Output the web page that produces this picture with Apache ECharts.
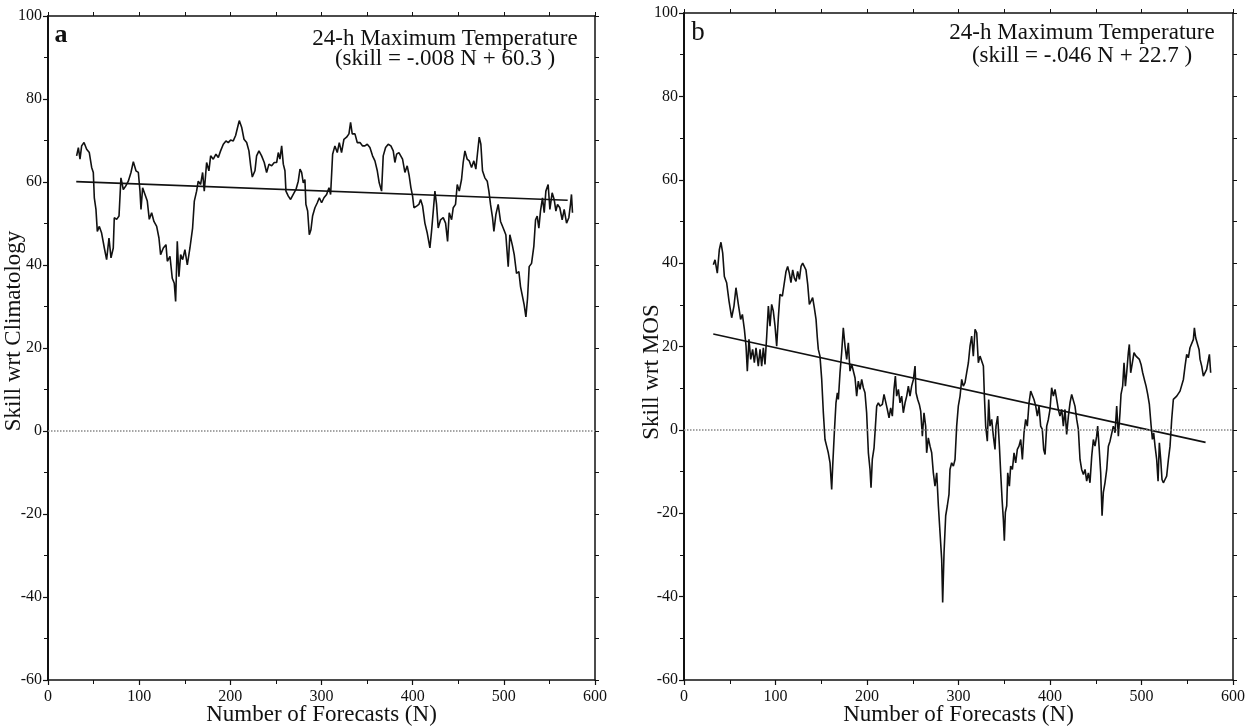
<!DOCTYPE html>
<html>
<head>
<meta charset="utf-8">
<script src="https://cdn.jsdelivr.net/npm/echarts@6/dist/echarts.min.js"></script>
<style>
  html, body { margin: 0; padding: 0; background: #fff; }
  #chart { width: 1253px; height: 727px; }
</style>
</head>
<body>
<div id="chart"></div>
<script>
// ---------------------------------------------------------------------------
// data: [N, skill]
// ---------------------------------------------------------------------------
var xTicks = [0, 100, 200, 300, 400, 500, 600];
var yTicks = [-60, -40, -20, 0, 20, 40, 60, 80, 100];

// panel a: skill wrt climatology
var climSkill = [
    [31.4,66.3],[33.3,68.3],[35.1,65.5],[36.9,68.7],[39.5,69.5],[42.4,67.9],[45.3,67.1],[47.9,63.5],
    [49.7,62.3],[50.8,56.2],[52.6,53.4],[54.1,48.1],[56.3,49.3],[58.8,47.7],[61.8,44.1],[64.3,41.3],
    [66.9,46.5],[69.1,41.7],[71.6,44.1],[72.7,51.4],[75.3,51.0],[77.9,51.8],[80.0,61.0],[82.6,58.2],
    [85.2,59.0],[88.1,60.2],[91.0,62.3],[93.6,64.9],[96.5,62.7],[99.1,62.3],[100.9,57.8],[102.0,53.4],
    [103.8,58.6],[106.4,57.0],[108.9,55.4],[111.1,51.0],[113.7,52.6],[116.2,50.5],[119.2,49.3],[121.7,46.5],
    [123.5,42.5],[126.5,44.1],[129.4,44.9],[130.9,40.9],[133.8,42.1],[136.3,36.8],[138.5,35.6],[140.0,31.2],
    [141.8,45.7],[143.6,37.2],[145.5,42.5],[147.7,41.3],[150.2,43.7],[152.8,40.0],[155.7,44.1],[158.6,48.9],
    [160.5,55.4],[163.0,57.8],[164.8,60.2],[167.4,59.4],[169.6,62.3],[171.4,57.8],[174.0,64.7],[176.5,62.7],
    [178.4,66.3],[181.3,65.5],[184.2,66.7],[186.8,65.9],[189.3,67.5],[192.3,69.1],[195.2,69.9],[197.7,69.5],
    [200.3,70.1],[203.2,69.9],[205.8,71.2],[208.0,73.2],[209.8,74.8],[212.4,73.2],[215.0,70.3],[217.9,69.5],
    [220.4,67.5],[222.3,63.9],[224.1,61.2],[227.0,62.7],[228.8,66.3],[231.4,67.5],[234.3,66.3],[237.2,64.7],
    [239.8,62.3],[242.4,64.3],[245.3,63.9],[248.2,64.7],[250.8,64.7],[252.6,67.1],[254.4,65.5],[256.3,68.7],
    [258.1,64.3],[259.9,62.7],[261.0,57.8],[263.6,56.6],[266.1,55.8],[269.0,57.0],[272.0,58.2],[274.5,60.2],
    [276.4,63.1],[278.2,62.3],[280.0,59.8],[281.8,60.6],[282.9,54.6],[284.8,53.0],[286.6,47.3],[288.4,48.5],
    [290.2,51.8],[292.8,53.8],[295.4,55.0],[297.6,56.2],[300.1,55.0],[302.7,56.2],[305.6,57.0],[308.2,58.6],
    [310.0,57.0],[312.2,66.7],[314.7,68.7],[317.3,67.1],[319.5,69.5],[322.0,67.1],[324.6,70.3],[327.5,70.8],
    [330.1,71.6],[331.9,74.4],[333.7,71.6],[336.7,71.6],[339.2,69.5],[342.2,69.5],[345.1,68.7],[347.6,68.7],
    [350.2,69.1],[353.1,68.3],[356.0,66.3],[358.6,65.1],[361.2,62.7],[363.3,59.8],[365.9,57.8],[367.7,66.3],
    [370.3,68.3],[373.2,69.1],[376.1,68.7],[378.7,67.5],[380.5,64.7],[382.4,66.7],[384.9,67.1],[388.9,65.5],
    [391.5,62.3],[394.0,63.9],[396.2,61.5],[398.1,58.6],[399.9,56.6],[401.4,53.8],[404.3,54.2],[406.8,54.6],
    [408.7,55.8],[410.9,54.2],[413.4,50.1],[416.0,47.7],[418.9,44.1],[420.7,48.1],[422.6,53.0],[424.4,57.8],
    [426.2,54.6],[428.0,48.9],[430.6,50.9],[433.5,51.4],[436.1,50.1],[438.3,45.7],[440.1,52.6],[442.7,50.9],
    [444.5,53.8],[447.0,54.6],[448.9,59.4],[451.1,57.8],[453.6,60.6],[455.4,64.7],[457.3,67.5],[459.8,65.5],
    [462.0,65.1],[464.6,63.5],[467.1,65.1],[469.3,63.1],[471.2,67.1],[473.0,70.8],[474.8,69.1],[476.6,62.7],
    [479.2,61.0],[481.8,60.2],[483.6,57.8],[485.4,54.6],[487.6,51.4],[489.1,48.1],[491.3,52.2],[493.8,54.6],
    [496.4,50.5],[499.3,48.9],[502.2,47.3],[504.8,39.6],[506.6,47.3],[509.2,44.9],[511.4,42.5],[513.9,38.0],
    [516.5,38.4],[518.3,34.8],[520.5,32.4],[522.3,30.4],[524.2,27.5],[526.0,32.0],[527.8,39.6],[530.4,40.4],
    [532.9,44.5],[534.8,50.9],[536.6,51.8],[538.4,48.9],[540.2,53.0],[542.4,56.2],[544.3,52.6],[546.1,57.8],
    [548.6,59.4],[550.5,53.4],[553.0,57.4],[555.2,55.8],[557.1,53.0],[558.9,54.6],[561.4,53.8],[564.0,50.9],
    [566.2,53.4],[568.8,50.1],[571.3,51.4],[573.1,54.6],[574.2,57.0],[575.3,52.6]
];
var climFit = [[31, 60.1], [570, 55.6]];

// panel b: skill wrt MOS
var mosSkill = [
    [32.1,39.6],[33.9,40.8],[36.4,37.6],[38.6,43.2],[40.4,45.0],[42.3,42.4],[44.1,36.8],[46.6,35.3],
    [49.2,30.9],[52.1,26.9],[54.6,29.7],[56.8,34.1],[59.4,30.1],[61.9,26.5],[63.8,27.7],[66.0,24.1],
    [67.8,20.1],[69.2,14.1],[71.0,21.7],[72.9,16.9],[75.0,19.3],[76.9,16.1],[78.7,19.7],[81.2,15.3],
    [83.1,19.3],[84.9,15.3],[86.7,19.7],[88.5,15.7],[90.4,22.5],[92.2,29.7],[94.0,24.9],[95.8,30.1],
    [97.6,28.5],[99.5,24.9],[101.3,20.1],[103.1,26.9],[104.9,32.5],[107.5,32.1],[109.3,31.7],[111.5,38.0],
    [113.3,39.2],[115.1,37.6],[116.9,35.3],[118.8,38.4],[120.6,36.4],[122.4,35.6],[124.2,38.0],[126.1,36.1],
    [127.9,39.2],[129.7,40.0],[131.5,39.6],[133.3,38.4],[135.2,34.9],[137.0,30.1],[138.8,30.9],[140.6,31.7],
    [142.4,29.3],[144.3,26.5],[145.7,22.1],[146.8,19.3],[148.6,17.7],[150.5,12.1],[152.3,4.1],[154.1,-2.3],
    [155.9,-3.9],[157.7,-5.5],[159.6,-7.9],[161.4,-14.3],[162.5,-8.7],[164.3,-0.7],[166.1,6.5],[167.6,8.9],
    [168.7,7.3],[170.5,13.7],[172.3,18.5],[174.1,24.5],[176.0,20.1],[177.8,16.9],[179.6,20.9],[181.4,14.1],
    [183.3,15.7],[185.1,15.3],[186.9,12.5],[188.7,8.1],[190.5,11.7],[192.4,9.7],[194.2,12.1],[196.0,10.1],
    [197.8,8.9],[199.6,4.1],[201.5,-5.5],[203.3,-9.5],[204.4,-13.9],[205.8,-7.1],[207.7,-4.3],[209.5,-3.9],
    [210.6,5.7],[212.4,6.5],[214.2,5.7],[216.8,6.1],[218.6,8.5],[220.4,8.1],[222.2,4.9],[224.1,2.9],
    [225.9,5.3],[227.7,3.3],[229.5,9.7],[231.0,12.9],[232.4,8.1],[234.3,9.7],[236.1,6.5],[237.9,8.1],
    [239.7,4.1],[241.6,6.5],[243.4,8.1],[245.2,10.5],[247.0,8.1],[248.8,10.5],[250.7,12.1],[252.5,15.3],
    [253.6,8.9],[255.4,7.3],[257.2,6.1],[258.7,4.5],[260.5,-1.5],[262.3,4.1],[264.1,0.9],[265.2,-5.5],
    [267.0,-1.9],[268.9,-3.9],[270.7,-5.5],[272.5,-10.3],[274.3,-13.5],[276.2,-10.3],[278.0,-18.2],[279.8,-24.6],
    [281.6,-31.0],[282.7,-41.4],[284.2,-29.4],[286.0,-20.6],[287.8,-18.2],[289.6,-15.5],[290.7,-9.5],[292.5,-7.9],
    [294.4,-8.7],[296.2,-7.1],[298.0,0.9],[299.8,5.7],[301.7,8.1],[303.5,12.1],[305.3,10.5],[307.1,11.3],
    [308.9,13.7],[310.8,16.1],[312.6,20.1],[314.4,22.5],[316.2,17.7],[318.1,24.1],[319.9,23.3],[321.7,16.1],
    [323.5,17.7],[325.3,17.7],[327.2,15.3],[328.3,8.1],[329.7,0.9],[331.5,-2.7],[333.0,7.3],[334.4,0.9],
    [336.3,2.5],[338.1,-1.5],[339.9,-4.7],[341.0,0.9],[342.8,3.3],[344.7,-3.9],[346.1,-10.3],[347.6,-16.6],
    [349.0,-21.4],[350.1,-26.6],[351.2,-19.8],[352.7,-18.2],[353.8,-10.3],[355.6,-13.5],[357.0,-8.7],[358.9,-9.5],
    [360.7,-5.5],[362.5,-7.9],[364.3,-4.7],[366.1,-3.9],[368.0,-2.3],[369.8,-7.1],[371.6,-0.7],[373.4,2.5],
    [375.2,0.9],[377.1,6.5],[378.9,9.3],[380.7,8.9],[382.5,7.3],[384.4,5.7],[386.2,3.3],[388.0,5.7],
    [389.8,0.9],[391.6,0.1],[393.1,-4.7],[394.6,-5.9],[396.4,0.9],[398.2,2.5],[400.0,4.9],[401.8,10.1],
    [403.7,8.1],[405.5,9.7],[407.3,7.3],[409.1,4.9],[410.9,3.3],[412.8,4.9],[414.6,0.9],[416.4,4.9],
    [418.2,-1.1],[420.1,3.3],[421.9,6.5],[423.7,8.5],[425.5,8.5],[427.3,5.7],[429.2,2.5],[431.0,0.1],
    [432.8,-7.1],[434.6,-9.5],[436.5,-10.7],[438.3,-9.5],[440.1,-12.3],[441.9,-10.3],[443.7,-12.7],[445.6,-6.3],
    [447.4,-2.3],[449.2,-3.9],[451.0,-1.5],[452.1,0.9],[453.6,-3.9],[455.4,-10.3],[456.9,-20.6],[458.3,-15.0],
    [460.1,-12.7],[462.0,-9.5],[463.8,-3.9],[465.6,-2.7],[467.4,-2.3],[469.2,0.9],[471.1,-0.7],[472.9,5.7],
    [474.7,-1.5],[476.5,4.1],[477.6,8.5],[479.4,10.5],[480.9,16.1],[482.4,10.5],[483.8,13.7],[485.6,18.5],
    [486.7,20.5],[488.2,13.7],[490.0,16.1],[491.8,18.5],[494.0,17.7],[495.8,17.3],[497.7,16.9],[499.5,15.7],
    [501.3,13.7],[503.1,12.1],[505.0,10.5],[506.8,8.5],[508.6,6.1],[510.4,1.3],[511.9,-2.3],[513.3,-0.7],
    [514.8,-3.9],[516.6,-7.1],[518.1,-12.3],[519.5,-3.1],[521.0,-7.1],[522.4,-11.9],[523.9,-12.7],[525.7,-11.9],
    [527.5,-11.1],[529.4,-7.1],[531.2,-3.9],[533.0,2.5],[534.8,7.3],[536.6,7.7],[538.5,8.1],[540.3,8.5],
    [542.1,9.3],[543.9,8.9],[545.8,12.1],[547.6,15.3],[549.4,18.1],[551.2,17.3],[553.0,19.7],[554.9,20.1],
    [556.7,21.7],[557.8,24.5],[559.2,22.1],[561.0,22.5],[562.9,19.3],[564.0,16.9],[565.8,15.3],[567.6,12.9],
    [569.4,12.9],[571.2,14.5],[573.1,14.9],[574.2,18.1],[575.6,13.7]
];
var mosFit = [[32, 23.0], [570, -3.0]];

var panelLetters = ['a', 'b'];
var panelTitle = '24-h Maximum Temperature';
var fitLabels = ['(skill = -.008 N + 60.3 )', '(skill = -.046 N + 22.7 )'];
var yNames = ['Skill wrt Climatology', 'Skill wrt MOS'];
var xName = 'Number of Forecasts (N)';

// ---------------------------------------------------------------------------
// chart
// ---------------------------------------------------------------------------
var FONT = '"Liberation Serif", "Times New Roman", serif';
var INK = '#111';
var myChart = echarts.init(document.getElementById('chart'), null, { renderer: 'canvas' });

// all four sides are drawn as separate axes; none of them may jump to zero
function bottomAxis(gi) {
    return {
        type: 'value', gridIndex: gi, position: 'bottom',
        min: xTicks[0], max: xTicks[xTicks.length - 1], interval: 100,
        name: xName, nameLocation: 'middle', nameGap: 23, nameMoveOverlap: false,
        nameTextStyle: { fontFamily: FONT, fontSize: 23, color: INK },
        axisLine: { onZero: false, lineStyle: { color: INK, width: 1.5 } },
        axisTick: { inside: false, length: 5, lineStyle: { color: INK, width: 1.2 } },
        minorTick: { show: true, splitNumber: 2, length: 4, lineStyle: { color: INK, width: 1 } },
        axisLabel: { margin: 9, fontFamily: FONT, fontSize: 16, color: INK },
        splitLine: { show: false }
    };
}
function topAxis(gi) {
    return {
        type: 'value', gridIndex: gi, position: 'top',
        min: 0, max: 600, interval: 50,
        axisLine: { onZero: false, lineStyle: { color: INK, width: 1.5 } },
        axisTick: { inside: false, length: 4, lineStyle: { color: INK, width: 1 } },
        axisLabel: { show: false },
        splitLine: { show: false }
    };
}
function leftAxis(gi) {
    return {
        type: 'value', gridIndex: gi, position: 'left',
        min: yTicks[0], max: yTicks[yTicks.length - 1], interval: 20,
        axisLine: { show: true, onZero: false, lineStyle: { color: INK, width: 2 } },
        axisTick: { show: true, inside: false, length: 5, lineStyle: { color: INK, width: 1.2 } },
        minorTick: { show: true, splitNumber: 2, length: 4, lineStyle: { color: INK, width: 1 } },
        axisLabel: { margin: 6, fontFamily: FONT, fontSize: 16, color: INK },
        splitLine: { show: false }
    };
}
function rightAxis(gi) {
    return {
        type: 'value', gridIndex: gi, position: 'right',
        min: -60, max: 100, interval: 10,
        axisLine: { show: true, onZero: false, lineStyle: { color: INK, width: 1.5 } },
        axisTick: { show: true, inside: false, length: 4, lineStyle: { color: INK, width: 1 } },
        axisLabel: { show: false },
        splitLine: { show: false }
    };
}

function skillSeries(gi, data) {
    return {
        type: 'line', xAxisIndex: gi * 2, yAxisIndex: gi * 2,
        data: data, symbol: 'none', smooth: false,
        lineStyle: { color: INK, width: 1.6 },
        markLine: {
            silent: true, symbol: 'none', label: { show: false },
            lineStyle: { type: 'dotted', color: '#888', width: 1.5 },
            data: [{ yAxis: 0 }]
        }
    };
}
function fitSeries(gi, data) {
    return {
        type: 'line', xAxisIndex: gi * 2, yAxisIndex: gi * 2,
        data: data, symbol: 'none',
        lineStyle: { color: INK, width: 1.6 }
    };
}

function textEl(x, y, text, size, extra) {
    return Object.assign({
        type: 'text', x: x, y: y,
        style: {
            text: text, fill: INK, fontFamily: FONT, fontSize: size,
            align: 'center', verticalAlign: 'middle'
        }
    }, extra || {});
}

var option = {
    animation: false,
    backgroundColor: '#fff',
    grid: [
        { left: 48, top: 16, width: 547, height: 664, outerBoundsMode: 'none' },
        { left: 684, top: 13, width: 549, height: 667, outerBoundsMode: 'none' }
    ],
    xAxis: [bottomAxis(0), topAxis(0), bottomAxis(1), topAxis(1)],
    yAxis: [leftAxis(0), rightAxis(0), leftAxis(1), rightAxis(1)],
    series: [
        skillSeries(0, climSkill), fitSeries(0, climFit),
        skillSeries(1, mosSkill), fitSeries(1, mosFit)
    ],
    graphic: [
        textEl(61, 35, panelLetters[0], 26, { style: { text: panelLetters[0], fill: INK, fontFamily: FONT, fontSize: 26, fontWeight: 'bold', align: 'center', verticalAlign: 'middle' } }),
        textEl(698, 33, panelLetters[1], 27),
        textEl(445, 39, panelTitle, 23),
        textEl(445, 59, fitLabels[0], 23),
        textEl(1082, 33, panelTitle, 23),
        textEl(1082, 56, fitLabels[1], 23),
        textEl(14, 331, yNames[0], 23, { rotation: Math.PI / 2 }),
        textEl(652, 372, yNames[1], 23, { rotation: Math.PI / 2 })
    ]
};
myChart.setOption(option);
</script>
</body>
</html>
